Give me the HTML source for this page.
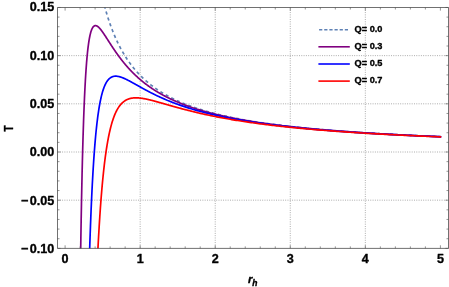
<!DOCTYPE html><html><head><meta charset="utf-8"><style>html,body{margin:0;padding:0;background:#fff}svg{display:block}text{font-family:"Liberation Sans",sans-serif;font-weight:bold;fill:#000;stroke:#000;stroke-width:0.35px;stroke-linejoin:round}</style></head><body><div style="will-change:transform;width:449px;height:287px">
<svg width="449" height="287" viewBox="0 0 449 287">
<defs><clipPath id="c"><rect x="57.50" y="7.50" width="391.00" height="240.90"/></clipPath></defs>
<path d="M140.16,7.50 V248.40 M215.22,7.50 V248.40 M290.28,7.50 V248.40 M365.34,7.50 V248.40 M57.50,200.18 H448.50 M57.50,152.00 H448.50 M57.50,103.82 H448.50 M57.50,55.64 H448.50" stroke="#8c8c8c" stroke-width="0.75" stroke-dasharray="0.95 1.35" fill="none"/>
<g clip-path="url(#c)" fill="none" stroke-linejoin="round">
<path d="M89.27,-86.14 L89.57,-83.22 L89.87,-80.37 L90.17,-77.58 L90.47,-74.87 L90.77,-72.21 L91.07,-69.62 L91.37,-67.09 L91.67,-64.61 L91.97,-62.19 L92.27,-59.83 L92.57,-57.51 L92.87,-55.25 L93.17,-53.03 L93.47,-50.86 L93.77,-48.74 L94.07,-46.66 L94.37,-44.62 L94.67,-42.62 L94.97,-40.67 L95.27,-38.75 L95.57,-36.87 L95.87,-35.03 L96.17,-33.22 L96.48,-31.45 L96.78,-29.71 L97.08,-28.00 L97.38,-26.33 L97.68,-24.68 L97.98,-23.07 L98.28,-21.49 L98.58,-19.93 L98.88,-18.40 L99.18,-16.90 L99.48,-15.43 L99.78,-13.98 L100.08,-12.55 L100.38,-11.15 L100.68,-9.77 L100.98,-8.42 L101.28,-7.09 L101.58,-5.78 L101.88,-4.49 L102.18,-3.22 L102.48,-1.98 L102.78,-0.75 L103.08,0.46 L103.38,1.65 L103.68,2.82 L103.98,3.97 L104.28,5.10 L104.58,6.22 L104.88,7.32 L105.18,8.40 L105.48,9.47 L105.78,10.52 L106.08,11.56 L106.38,12.58 L106.68,13.59 L106.98,14.58 L107.28,15.56 L107.58,16.52 L107.88,17.47 L108.18,18.41 L108.48,19.33 L108.78,20.25 L109.09,21.15 L109.39,22.03 L109.69,22.91 L109.99,23.77 L110.29,24.62 L110.59,25.46 L110.89,26.29 L111.19,27.11 L111.49,27.92 L111.79,28.72 L112.09,29.51 L112.39,30.28 L112.69,31.05 L112.99,31.81 L113.29,32.56 L113.59,33.30 L113.89,34.03 L114.19,34.75 L114.49,35.46 L114.79,36.17 L115.09,36.86 L115.39,37.55 L115.69,38.23 L115.99,38.90 L116.29,39.56 L116.59,40.22 L116.89,40.87 L117.19,41.51 L117.49,42.14 L117.79,42.77 L118.09,43.39 L118.39,44.00 L118.69,44.60 L118.99,45.20 L119.29,45.79 L119.59,46.38 L119.89,46.96 L120.19,47.53 L120.49,48.10 L120.79,48.66 L121.09,49.21 L121.40,49.76 L121.70,50.30 L122.00,50.84 L122.30,51.37 L122.60,51.89 L122.90,52.41 L123.20,52.93 L123.50,53.44 L123.80,53.94 L124.10,54.44 L124.40,54.94 L124.70,55.42 L125.00,55.91 L125.30,56.39 L125.60,56.86 L125.90,57.33 L126.20,57.80 L126.50,58.26 L126.80,58.71 L127.10,59.17 L127.40,59.61 L127.70,60.06 L128.00,60.50 L128.30,60.93 L128.60,61.36 L128.90,61.79 L129.20,62.21 L129.50,62.63 L129.80,63.04 L130.10,63.45 L130.40,63.86 L130.70,64.26 L131.00,64.66 L131.30,65.06 L131.60,65.45 L131.90,65.84 L132.20,66.23 L132.50,66.61 L132.80,66.99 L133.10,67.36 L133.40,67.74 L133.70,68.10 L134.01,68.47 L134.31,68.83 L134.61,69.19 L134.91,69.55 L135.21,69.90 L135.51,70.25 L135.81,70.60 L136.11,70.94 L136.41,71.28 L136.71,71.62 L137.01,71.96 L137.31,72.29 L137.61,72.62 L137.91,72.95 L138.21,73.27 L138.51,73.59 L138.81,73.91 L139.11,74.23 L139.41,74.54 L139.71,74.86 L140.01,75.17 L140.31,75.47 L140.61,75.78 L140.91,76.08 L141.21,76.38 L141.51,76.67 L141.81,76.97 L142.11,77.26 L142.41,77.55 L142.71,77.84 L143.01,78.13 L143.31,78.41 L143.61,78.69 L143.91,78.97 L144.21,79.25 L144.51,79.52 L144.81,79.80 L145.11,80.07 L145.41,80.34 L145.71,80.60 L146.01,80.87 L146.31,81.13 L146.62,81.39 L146.92,81.65 L147.22,81.91 L147.52,82.16 L147.82,82.42 L148.12,82.67 L148.42,82.92 L148.72,83.17 L149.02,83.41 L149.32,83.66 L149.62,83.90 L149.92,84.14 L150.22,84.38 L150.52,84.62 L150.82,84.85 L151.12,85.09 L151.42,85.32 L151.72,85.55 L152.02,85.78 L152.32,86.01 L152.62,86.24 L152.92,86.46 L153.22,86.68 L153.52,86.91 L153.82,87.13 L154.12,87.34 L154.42,87.56 L154.72,87.78 L155.02,87.99 L155.32,88.21 L155.62,88.42 L155.92,88.63 L156.22,88.84 L156.52,89.04 L156.82,89.25 L157.12,89.45 L157.42,89.66 L157.72,89.86 L158.02,90.06 L158.32,90.26 L158.62,90.46 L158.93,90.66 L159.23,90.85 L159.53,91.05 L159.83,91.24 L160.13,91.43 L160.43,91.62 L160.73,91.81 L161.03,92.00 L161.33,92.19 L161.63,92.37 L161.93,92.56 L162.23,92.74 L162.53,92.92 L162.83,93.11 L163.13,93.29 L163.43,93.46 L163.73,93.64 L164.03,93.82 L164.33,94.00 L164.63,94.17 L164.93,94.35 L165.23,94.52 L165.53,94.69 L165.83,94.86 L166.13,95.03 L166.43,95.20 L166.73,95.37 L167.03,95.53 L167.33,95.70 L167.63,95.86 L167.93,96.03 L168.23,96.19 L168.53,96.35 L168.83,96.51 L169.13,96.67 L169.43,96.83 L169.73,96.99 L170.03,97.15 L170.33,97.31 L170.63,97.46 L170.93,97.62 L171.23,97.77 L171.54,97.92 L171.84,98.08 L172.14,98.23 L172.44,98.38 L172.74,98.53 L173.04,98.68 L173.34,98.82 L173.64,98.97 L173.94,99.12 L174.24,99.26 L174.54,99.41 L174.84,99.55 L175.14,99.69 L175.44,99.84 L175.74,99.98 L176.04,100.12 L176.34,100.26 L176.64,100.40 L176.94,100.54 L177.24,100.67 L177.54,100.81 L179.19,101.55 L180.69,102.21 L182.19,102.85 L183.69,103.47 L185.20,104.07 L186.70,104.67 L188.20,105.24 L189.70,105.81 L191.20,106.36 L192.70,106.89 L194.20,107.42 L195.70,107.93 L197.21,108.43 L198.71,108.92 L200.21,109.40 L201.71,109.87 L203.21,110.33 L204.71,110.77 L206.21,111.21 L207.71,111.64 L209.22,112.06 L210.72,112.47 L212.22,112.88 L213.72,113.27 L215.22,113.66 L216.72,114.04 L218.22,114.41 L219.72,114.78 L221.22,115.13 L222.73,115.49 L224.23,115.83 L225.73,116.17 L227.23,116.50 L228.73,116.83 L230.23,117.15 L231.73,117.46 L233.23,117.77 L234.74,118.07 L236.24,118.37 L237.74,118.66 L239.24,118.95 L240.74,119.23 L242.24,119.51 L243.74,119.78 L245.24,120.05 L246.75,120.31 L248.25,120.57 L249.75,120.83 L251.25,121.08 L252.75,121.33 L254.25,121.57 L255.75,121.81 L257.25,122.05 L258.75,122.28 L260.26,122.51 L261.76,122.73 L263.26,122.95 L264.76,123.17 L266.26,123.39 L267.76,123.60 L269.26,123.81 L270.76,124.01 L272.27,124.22 L273.77,124.42 L275.27,124.61 L276.77,124.81 L278.27,125.00 L279.77,125.19 L281.27,125.37 L282.77,125.56 L284.28,125.74 L285.78,125.92 L287.28,126.09 L288.78,126.27 L290.28,126.44 L291.78,126.61 L293.28,126.78 L294.78,126.94 L296.28,127.10 L297.79,127.26 L299.29,127.42 L300.79,127.58 L302.29,127.73 L303.79,127.89 L305.29,128.04 L306.79,128.19 L308.29,128.33 L309.80,128.48 L311.30,128.62 L312.80,128.76 L314.30,128.90 L315.80,129.04 L317.30,129.18 L318.80,129.31 L320.30,129.45 L321.81,129.58 L323.31,129.71 L324.81,129.84 L326.31,129.97 L327.81,130.09 L329.31,130.22 L330.81,130.34 L332.31,130.46 L333.81,130.58 L335.32,130.70 L336.82,130.82 L338.32,130.93 L339.82,131.05 L341.32,131.16 L342.82,131.28 L344.32,131.39 L345.82,131.50 L347.33,131.61 L348.83,131.71 L350.33,131.82 L351.83,131.93 L353.33,132.03 L354.83,132.13 L356.33,132.24 L357.83,132.34 L359.34,132.44 L360.84,132.54 L362.34,132.64 L363.84,132.73 L365.34,132.83 L366.84,132.93 L368.34,133.02 L369.84,133.11 L371.34,133.21 L372.85,133.30 L374.35,133.39 L375.85,133.48 L377.35,133.57 L378.85,133.66 L380.35,133.74 L381.85,133.83 L383.35,133.91 L384.86,134.00 L386.36,134.08 L387.86,134.17 L389.36,134.25 L390.86,134.33 L392.36,134.41 L393.86,134.49 L395.36,134.57 L396.87,134.65 L398.37,134.73 L399.87,134.81 L401.37,134.88 L402.87,134.96 L404.37,135.04 L405.87,135.11 L407.37,135.18 L408.87,135.26 L410.38,135.33 L411.88,135.40 L413.38,135.47 L414.88,135.54 L416.38,135.62 L417.88,135.68 L419.38,135.75 L420.88,135.82 L422.39,135.89 L423.89,135.96 L425.39,136.02 L426.89,136.09 L428.39,136.16 L429.89,136.22 L431.39,136.29 L432.89,136.35 L434.40,136.41 L435.90,136.48 L437.40,136.54 L438.90,136.60 L440.40,136.66" stroke="#5e81b5" stroke-width="1.7" stroke-dasharray="3.2 3.0"/>
<path d="M79.66,329.53 L79.96,303.50 L80.26,279.79 L80.56,258.17 L80.86,238.44 L81.16,220.42 L81.46,203.93 L81.76,188.84 L82.06,175.01 L82.36,162.34 L82.66,150.71 L82.96,140.03 L83.26,130.23 L83.56,121.22 L83.86,112.94 L84.17,105.32 L84.47,98.31 L84.77,91.87 L85.07,85.93 L85.37,80.47 L85.67,75.45 L85.97,70.83 L86.27,66.57 L86.57,62.66 L86.87,59.06 L87.17,55.75 L87.47,52.72 L87.77,49.93 L88.07,47.37 L88.37,45.03 L88.67,42.88 L88.97,40.92 L89.27,39.13 L89.57,37.49 L89.87,36.01 L90.17,34.66 L90.47,33.44 L90.77,32.34 L91.07,31.34 L91.37,30.46 L91.67,29.66 L91.97,28.96 L92.27,28.34 L92.57,27.79 L92.87,27.32 L93.17,26.92 L93.47,26.57 L93.77,26.29 L94.07,26.06 L94.37,25.89 L94.67,25.76 L94.97,25.67 L95.27,25.63 L95.57,25.62 L95.87,25.65 L96.17,25.72 L96.48,25.82 L96.78,25.94 L97.08,26.10 L97.38,26.27 L97.68,26.48 L97.98,26.70 L98.28,26.95 L98.58,27.21 L98.88,27.49 L99.18,27.79 L99.48,28.11 L99.78,28.43 L100.08,28.78 L100.38,29.13 L100.68,29.50 L100.98,29.87 L101.28,30.26 L101.58,30.65 L101.88,31.06 L102.18,31.47 L102.48,31.88 L102.78,32.31 L103.08,32.74 L103.38,33.17 L103.68,33.61 L103.98,34.06 L104.28,34.50 L104.58,34.96 L104.88,35.41 L105.18,35.87 L105.48,36.33 L105.78,36.79 L106.08,37.25 L106.38,37.72 L106.68,38.18 L106.98,38.65 L107.28,39.12 L107.58,39.59 L107.88,40.05 L108.18,40.52 L108.48,40.99 L108.78,41.46 L109.09,41.93 L109.39,42.40 L109.69,42.86 L109.99,43.33 L110.29,43.79 L110.59,44.26 L110.89,44.72 L111.19,45.18 L111.49,45.64 L111.79,46.10 L112.09,46.55 L112.39,47.01 L112.69,47.46 L112.99,47.91 L113.29,48.36 L113.59,48.81 L113.89,49.26 L114.19,49.70 L114.49,50.14 L114.79,50.58 L115.09,51.02 L115.39,51.46 L115.69,51.89 L115.99,52.32 L116.29,52.75 L116.59,53.18 L116.89,53.60 L117.19,54.02 L117.49,54.44 L117.79,54.86 L118.09,55.27 L118.39,55.68 L118.69,56.09 L118.99,56.50 L119.29,56.91 L119.59,57.31 L119.89,57.71 L120.19,58.11 L120.49,58.50 L120.79,58.89 L121.09,59.28 L121.40,59.67 L121.70,60.06 L122.00,60.44 L122.30,60.82 L122.60,61.20 L122.90,61.58 L123.20,61.95 L123.50,62.32 L123.80,62.69 L124.10,63.05 L124.40,63.42 L124.70,63.78 L125.00,64.14 L125.30,64.50 L125.60,64.85 L125.90,65.20 L126.20,65.55 L126.50,65.90 L126.80,66.24 L127.10,66.59 L127.40,66.93 L127.70,67.27 L128.00,67.60 L128.30,67.94 L128.60,68.27 L128.90,68.60 L129.20,68.92 L129.50,69.25 L129.80,69.57 L130.10,69.89 L130.40,70.21 L130.70,70.53 L131.00,70.84 L131.30,71.16 L131.60,71.47 L131.90,71.77 L132.20,72.08 L132.50,72.38 L132.80,72.69 L133.10,72.99 L133.40,73.29 L133.70,73.58 L134.01,73.88 L134.31,74.17 L134.61,74.46 L134.91,74.75 L135.21,75.03 L135.51,75.32 L135.81,75.60 L136.11,75.88 L136.41,76.16 L136.71,76.44 L137.01,76.71 L137.31,76.99 L137.61,77.26 L137.91,77.53 L138.21,77.80 L138.51,78.07 L138.81,78.33 L139.11,78.59 L139.41,78.85 L139.71,79.11 L140.01,79.37 L140.31,79.63 L140.61,79.88 L140.91,80.14 L141.21,80.39 L141.51,80.64 L141.81,80.89 L142.11,81.13 L142.41,81.38 L142.71,81.62 L143.01,81.87 L143.31,82.11 L143.61,82.35 L143.91,82.58 L144.21,82.82 L144.51,83.05 L144.81,83.29 L145.11,83.52 L145.41,83.75 L145.71,83.98 L146.01,84.21 L146.31,84.43 L146.62,84.66 L146.92,84.88 L147.22,85.10 L147.52,85.32 L147.82,85.54 L148.12,85.76 L148.42,85.98 L148.72,86.19 L149.02,86.41 L149.32,86.62 L149.62,86.83 L149.92,87.04 L150.22,87.25 L150.52,87.46 L150.82,87.66 L151.12,87.87 L151.42,88.07 L151.72,88.27 L152.02,88.47 L152.32,88.68 L152.62,88.87 L152.92,89.07 L153.22,89.27 L153.52,89.46 L153.82,89.66 L154.12,89.85 L154.42,90.04 L154.72,90.24 L155.02,90.42 L155.32,90.61 L155.62,90.80 L155.92,90.99 L156.22,91.17 L156.52,91.36 L156.82,91.54 L157.12,91.72 L157.42,91.91 L157.72,92.09 L158.02,92.26 L158.32,92.44 L158.62,92.62 L158.93,92.80 L159.23,92.97 L159.53,93.15 L159.83,93.32 L160.13,93.49 L160.43,93.66 L160.73,93.83 L161.03,94.00 L161.33,94.17 L161.63,94.34 L161.93,94.51 L162.23,94.67 L162.53,94.84 L162.83,95.00 L163.13,95.16 L163.43,95.33 L163.73,95.49 L164.03,95.65 L164.33,95.81 L164.63,95.97 L164.93,96.12 L165.23,96.28 L165.53,96.44 L165.83,96.59 L166.13,96.75 L166.43,96.90 L166.73,97.05 L167.03,97.20 L167.33,97.36 L167.63,97.51 L167.93,97.66 L168.23,97.80 L168.53,97.95 L168.83,98.10 L169.13,98.25 L169.43,98.39 L169.73,98.54 L170.03,98.68 L170.33,98.82 L170.63,98.97 L170.93,99.11 L171.23,99.25 L171.54,99.39 L171.84,99.53 L172.14,99.67 L172.44,99.81 L172.74,99.94 L173.04,100.08 L173.34,100.22 L173.64,100.35 L173.94,100.49 L174.24,100.62 L174.54,100.76 L174.84,100.89 L175.14,101.02 L175.44,101.15 L175.74,101.28 L176.04,101.41 L176.34,101.54 L176.64,101.67 L176.94,101.80 L177.24,101.93 L177.54,102.06 L179.19,102.74 L180.69,103.35 L182.19,103.95 L183.69,104.53 L185.20,105.10 L186.70,105.65 L188.20,106.19 L189.70,106.72 L191.20,107.24 L192.70,107.74 L194.20,108.24 L195.70,108.72 L197.21,109.20 L198.71,109.66 L200.21,110.12 L201.71,110.56 L203.21,111.00 L204.71,111.42 L206.21,111.84 L207.71,112.25 L209.22,112.65 L210.72,113.05 L212.22,113.43 L213.72,113.81 L215.22,114.18 L216.72,114.55 L218.22,114.90 L219.72,115.25 L221.22,115.60 L222.73,115.94 L224.23,116.27 L225.73,116.59 L227.23,116.91 L228.73,117.23 L230.23,117.54 L231.73,117.84 L233.23,118.14 L234.74,118.43 L236.24,118.72 L237.74,119.00 L239.24,119.28 L240.74,119.56 L242.24,119.83 L243.74,120.09 L245.24,120.35 L246.75,120.61 L248.25,120.86 L249.75,121.11 L251.25,121.35 L252.75,121.60 L254.25,121.83 L255.75,122.07 L257.25,122.30 L258.75,122.52 L260.26,122.75 L261.76,122.97 L263.26,123.18 L264.76,123.39 L266.26,123.61 L267.76,123.81 L269.26,124.02 L270.76,124.22 L272.27,124.42 L273.77,124.61 L275.27,124.80 L276.77,124.99 L278.27,125.18 L279.77,125.37 L281.27,125.55 L282.77,125.73 L284.28,125.91 L285.78,126.08 L287.28,126.26 L288.78,126.43 L290.28,126.59 L291.78,126.76 L293.28,126.92 L294.78,127.09 L296.28,127.25 L297.79,127.40 L299.29,127.56 L300.79,127.71 L302.29,127.87 L303.79,128.02 L305.29,128.16 L306.79,128.31 L308.29,128.46 L309.80,128.60 L311.30,128.74 L312.80,128.88 L314.30,129.02 L315.80,129.15 L317.30,129.29 L318.80,129.42 L320.30,129.55 L321.81,129.68 L323.31,129.81 L324.81,129.94 L326.31,130.06 L327.81,130.19 L329.31,130.31 L330.81,130.43 L332.31,130.55 L333.81,130.67 L335.32,130.79 L336.82,130.91 L338.32,131.02 L339.82,131.13 L341.32,131.25 L342.82,131.36 L344.32,131.47 L345.82,131.58 L347.33,131.68 L348.83,131.79 L350.33,131.90 L351.83,132.00 L353.33,132.10 L354.83,132.21 L356.33,132.31 L357.83,132.41 L359.34,132.51 L360.84,132.61 L362.34,132.70 L363.84,132.80 L365.34,132.90 L366.84,132.99 L368.34,133.08 L369.84,133.18 L371.34,133.27 L372.85,133.36 L374.35,133.45 L375.85,133.54 L377.35,133.63 L378.85,133.71 L380.35,133.80 L381.85,133.88 L383.35,133.97 L384.86,134.05 L386.36,134.14 L387.86,134.22 L389.36,134.30 L390.86,134.38 L392.36,134.46 L393.86,134.54 L395.36,134.62 L396.87,134.70 L398.37,134.78 L399.87,134.85 L401.37,134.93 L402.87,135.01 L404.37,135.08 L405.87,135.15 L407.37,135.23 L408.87,135.30 L410.38,135.37 L411.88,135.44 L413.38,135.52 L414.88,135.59 L416.38,135.66 L417.88,135.73 L419.38,135.79 L420.88,135.86 L422.39,135.93 L423.89,136.00 L425.39,136.06 L426.89,136.13 L428.39,136.19 L429.89,136.26 L431.39,136.32 L432.89,136.39 L434.40,136.45 L435.90,136.51 L437.40,136.57 L438.90,136.64 L440.40,136.70" stroke="#800080" stroke-width="1.7" stroke-linecap="square"/>
<path d="M87.47,333.67 L87.77,319.86 L88.07,306.86 L88.37,294.60 L88.67,283.03 L88.97,272.12 L89.27,261.82 L89.57,252.09 L89.87,242.90 L90.17,234.21 L90.47,225.98 L90.77,218.20 L91.07,210.84 L91.37,203.87 L91.67,197.26 L91.97,191.00 L92.27,185.07 L92.57,179.44 L92.87,174.10 L93.17,169.04 L93.47,164.23 L93.77,159.67 L94.07,155.34 L94.37,151.22 L94.67,147.32 L94.97,143.60 L95.27,140.07 L95.57,136.72 L95.87,133.53 L96.17,130.50 L96.48,127.62 L96.78,124.87 L97.08,122.27 L97.38,119.79 L97.68,117.43 L97.98,115.18 L98.28,113.05 L98.58,111.02 L98.88,109.08 L99.18,107.25 L99.48,105.50 L99.78,103.83 L100.08,102.25 L100.38,100.74 L100.68,99.31 L100.98,97.95 L101.28,96.65 L101.58,95.42 L101.88,94.25 L102.18,93.14 L102.48,92.08 L102.78,91.08 L103.08,90.13 L103.38,89.22 L103.68,88.36 L103.98,87.55 L104.28,86.78 L104.58,86.04 L104.88,85.35 L105.18,84.69 L105.48,84.07 L105.78,83.49 L106.08,82.93 L106.38,82.41 L106.68,81.91 L106.98,81.44 L107.28,81.00 L107.58,80.59 L107.88,80.20 L108.18,79.84 L108.48,79.50 L108.78,79.18 L109.09,78.88 L109.39,78.60 L109.69,78.34 L109.99,78.10 L110.29,77.87 L110.59,77.67 L110.89,77.47 L111.19,77.30 L111.49,77.14 L111.79,76.99 L112.09,76.86 L112.39,76.74 L112.69,76.64 L112.99,76.54 L113.29,76.46 L113.59,76.39 L113.89,76.33 L114.19,76.28 L114.49,76.24 L114.79,76.21 L115.09,76.19 L115.39,76.18 L115.69,76.17 L115.99,76.18 L116.29,76.19 L116.59,76.21 L116.89,76.23 L117.19,76.26 L117.49,76.30 L117.79,76.35 L118.09,76.40 L118.39,76.46 L118.69,76.52 L118.99,76.59 L119.29,76.66 L119.59,76.74 L119.89,76.82 L120.19,76.91 L120.49,77.00 L120.79,77.09 L121.09,77.19 L121.40,77.30 L121.70,77.40 L122.00,77.51 L122.30,77.63 L122.60,77.74 L122.90,77.86 L123.20,77.98 L123.50,78.11 L123.80,78.24 L124.10,78.37 L124.40,78.50 L124.70,78.63 L125.00,78.77 L125.30,78.91 L125.60,79.05 L125.90,79.19 L126.20,79.34 L126.50,79.48 L126.80,79.63 L127.10,79.78 L127.40,79.93 L127.70,80.08 L128.00,80.24 L128.30,80.39 L128.60,80.55 L128.90,80.70 L129.20,80.86 L129.50,81.02 L129.80,81.18 L130.10,81.34 L130.40,81.50 L130.70,81.67 L131.00,81.83 L131.30,81.99 L131.60,82.16 L131.90,82.32 L132.20,82.49 L132.50,82.65 L132.80,82.82 L133.10,82.98 L133.40,83.15 L133.70,83.32 L134.01,83.49 L134.31,83.65 L134.61,83.82 L134.91,83.99 L135.21,84.16 L135.51,84.33 L135.81,84.50 L136.11,84.66 L136.41,84.83 L136.71,85.00 L137.01,85.17 L137.31,85.34 L137.61,85.51 L137.91,85.68 L138.21,85.84 L138.51,86.01 L138.81,86.18 L139.11,86.35 L139.41,86.52 L139.71,86.69 L140.01,86.85 L140.31,87.02 L140.61,87.19 L140.91,87.35 L141.21,87.52 L141.51,87.69 L141.81,87.85 L142.11,88.02 L142.41,88.18 L142.71,88.35 L143.01,88.51 L143.31,88.68 L143.61,88.84 L143.91,89.01 L144.21,89.17 L144.51,89.33 L144.81,89.49 L145.11,89.66 L145.41,89.82 L145.71,89.98 L146.01,90.14 L146.31,90.30 L146.62,90.46 L146.92,90.62 L147.22,90.78 L147.52,90.94 L147.82,91.10 L148.12,91.26 L148.42,91.41 L148.72,91.57 L149.02,91.73 L149.32,91.88 L149.62,92.04 L149.92,92.19 L150.22,92.35 L150.52,92.50 L150.82,92.65 L151.12,92.81 L151.42,92.96 L151.72,93.11 L152.02,93.26 L152.32,93.41 L152.62,93.56 L152.92,93.71 L153.22,93.86 L153.52,94.01 L153.82,94.16 L154.12,94.31 L154.42,94.46 L154.72,94.60 L155.02,94.75 L155.32,94.89 L155.62,95.04 L155.92,95.18 L156.22,95.33 L156.52,95.47 L156.82,95.62 L157.12,95.76 L157.42,95.90 L157.72,96.04 L158.02,96.18 L158.32,96.32 L158.62,96.46 L158.93,96.60 L159.23,96.74 L159.53,96.88 L159.83,97.02 L160.13,97.16 L160.43,97.29 L160.73,97.43 L161.03,97.56 L161.33,97.70 L161.63,97.83 L161.93,97.97 L162.23,98.10 L162.53,98.24 L162.83,98.37 L163.13,98.50 L163.43,98.63 L163.73,98.76 L164.03,98.89 L164.33,99.02 L164.63,99.15 L164.93,99.28 L165.23,99.41 L165.53,99.54 L165.83,99.67 L166.13,99.79 L166.43,99.92 L166.73,100.05 L167.03,100.17 L167.33,100.30 L167.63,100.42 L167.93,100.55 L168.23,100.67 L168.53,100.79 L168.83,100.92 L169.13,101.04 L169.43,101.16 L169.73,101.28 L170.03,101.40 L170.33,101.52 L170.63,101.64 L170.93,101.76 L171.23,101.88 L171.54,102.00 L171.84,102.12 L172.14,102.23 L172.44,102.35 L172.74,102.47 L173.04,102.58 L173.34,102.70 L173.64,102.81 L173.94,102.93 L174.24,103.04 L174.54,103.16 L174.84,103.27 L175.14,103.38 L175.44,103.49 L175.74,103.61 L176.04,103.72 L176.34,103.83 L176.64,103.94 L176.94,104.05 L177.24,104.16 L177.54,104.27 L179.19,104.86 L180.69,105.39 L182.19,105.91 L183.69,106.41 L185.20,106.91 L186.70,107.40 L188.20,107.88 L189.70,108.35 L191.20,108.81 L192.70,109.26 L194.20,109.70 L195.70,110.14 L197.21,110.56 L198.71,110.98 L200.21,111.39 L201.71,111.79 L203.21,112.19 L204.71,112.58 L206.21,112.96 L207.71,113.34 L209.22,113.70 L210.72,114.06 L212.22,114.42 L213.72,114.77 L215.22,115.11 L216.72,115.45 L218.22,115.78 L219.72,116.11 L221.22,116.43 L222.73,116.74 L224.23,117.05 L225.73,117.35 L227.23,117.65 L228.73,117.95 L230.23,118.24 L231.73,118.52 L233.23,118.80 L234.74,119.08 L236.24,119.35 L237.74,119.62 L239.24,119.88 L240.74,120.14 L242.24,120.39 L243.74,120.64 L245.24,120.89 L246.75,121.13 L248.25,121.37 L249.75,121.61 L251.25,121.84 L252.75,122.07 L254.25,122.30 L255.75,122.52 L257.25,122.74 L258.75,122.96 L260.26,123.17 L261.76,123.38 L263.26,123.59 L264.76,123.79 L266.26,123.99 L267.76,124.19 L269.26,124.39 L270.76,124.58 L272.27,124.77 L273.77,124.96 L275.27,125.14 L276.77,125.33 L278.27,125.51 L279.77,125.69 L281.27,125.86 L282.77,126.03 L284.28,126.21 L285.78,126.38 L287.28,126.54 L288.78,126.71 L290.28,126.87 L291.78,127.03 L293.28,127.19 L294.78,127.35 L296.28,127.50 L297.79,127.65 L299.29,127.81 L300.79,127.95 L302.29,128.10 L303.79,128.25 L305.29,128.39 L306.79,128.53 L308.29,128.67 L309.80,128.81 L311.30,128.95 L312.80,129.09 L314.30,129.22 L315.80,129.35 L317.30,129.48 L318.80,129.61 L320.30,129.74 L321.81,129.87 L323.31,129.99 L324.81,130.12 L326.31,130.24 L327.81,130.36 L329.31,130.48 L330.81,130.60 L332.31,130.72 L333.81,130.83 L335.32,130.95 L336.82,131.06 L338.32,131.17 L339.82,131.29 L341.32,131.40 L342.82,131.50 L344.32,131.61 L345.82,131.72 L347.33,131.82 L348.83,131.93 L350.33,132.03 L351.83,132.13 L353.33,132.24 L354.83,132.34 L356.33,132.44 L357.83,132.53 L359.34,132.63 L360.84,132.73 L362.34,132.82 L363.84,132.92 L365.34,133.01 L366.84,133.10 L368.34,133.20 L369.84,133.29 L371.34,133.38 L372.85,133.47 L374.35,133.55 L375.85,133.64 L377.35,133.73 L378.85,133.81 L380.35,133.90 L381.85,133.98 L383.35,134.07 L384.86,134.15 L386.36,134.23 L387.86,134.31 L389.36,134.39 L390.86,134.47 L392.36,134.55 L393.86,134.63 L395.36,134.71 L396.87,134.79 L398.37,134.86 L399.87,134.94 L401.37,135.01 L402.87,135.09 L404.37,135.16 L405.87,135.23 L407.37,135.31 L408.87,135.38 L410.38,135.45 L411.88,135.52 L413.38,135.59 L414.88,135.66 L416.38,135.73 L417.88,135.80 L419.38,135.86 L420.88,135.93 L422.39,136.00 L423.89,136.06 L425.39,136.13 L426.89,136.19 L428.39,136.26 L429.89,136.32 L431.39,136.39 L432.89,136.45 L434.40,136.51 L435.90,136.57 L437.40,136.64 L438.90,136.70 L440.40,136.76" stroke="#0000ff" stroke-width="1.7" stroke-linecap="square"/>
<path d="M94.37,339.23 L94.67,329.66 L94.97,320.50 L95.27,311.74 L95.57,303.36 L95.87,295.35 L96.17,287.67 L96.48,280.32 L96.78,273.27 L97.08,266.53 L97.38,260.06 L97.68,253.86 L97.98,247.91 L98.28,242.20 L98.58,236.73 L98.88,231.47 L99.18,226.43 L99.48,221.58 L99.78,216.93 L100.08,212.46 L100.38,208.16 L100.68,204.03 L100.98,200.06 L101.28,196.25 L101.58,192.58 L101.88,189.05 L102.18,185.65 L102.48,182.38 L102.78,179.24 L103.08,176.21 L103.38,173.30 L103.68,170.49 L103.98,167.79 L104.28,165.18 L104.58,162.68 L104.88,160.26 L105.18,157.93 L105.48,155.69 L105.78,153.53 L106.08,151.45 L106.38,149.44 L106.68,147.50 L106.98,145.63 L107.28,143.83 L107.58,142.10 L107.88,140.42 L108.18,138.81 L108.48,137.25 L108.78,135.75 L109.09,134.30 L109.39,132.90 L109.69,131.55 L109.99,130.25 L110.29,128.99 L110.59,127.78 L110.89,126.61 L111.19,125.48 L111.49,124.39 L111.79,123.34 L112.09,122.32 L112.39,121.35 L112.69,120.40 L112.99,119.49 L113.29,118.61 L113.59,117.76 L113.89,116.94 L114.19,116.15 L114.49,115.39 L114.79,114.65 L115.09,113.94 L115.39,113.26 L115.69,112.60 L115.99,111.96 L116.29,111.34 L116.59,110.75 L116.89,110.18 L117.19,109.63 L117.49,109.10 L117.79,108.59 L118.09,108.09 L118.39,107.62 L118.69,107.16 L118.99,106.72 L119.29,106.29 L119.59,105.88 L119.89,105.49 L120.19,105.11 L120.49,104.74 L120.79,104.39 L121.09,104.06 L121.40,103.73 L121.70,103.42 L122.00,103.12 L122.30,102.83 L122.60,102.55 L122.90,102.29 L123.20,102.03 L123.50,101.79 L123.80,101.56 L124.10,101.33 L124.40,101.12 L124.70,100.91 L125.00,100.72 L125.30,100.53 L125.60,100.35 L125.90,100.18 L126.20,100.01 L126.50,99.86 L126.80,99.71 L127.10,99.57 L127.40,99.44 L127.70,99.31 L128.00,99.19 L128.30,99.07 L128.60,98.97 L128.90,98.86 L129.20,98.77 L129.50,98.68 L129.80,98.59 L130.10,98.51 L130.40,98.44 L130.70,98.37 L131.00,98.31 L131.30,98.25 L131.60,98.19 L131.90,98.14 L132.20,98.09 L132.50,98.05 L132.80,98.01 L133.10,97.98 L133.40,97.95 L133.70,97.92 L134.01,97.90 L134.31,97.88 L134.61,97.87 L134.91,97.86 L135.21,97.85 L135.51,97.84 L135.81,97.84 L136.11,97.84 L136.41,97.84 L136.71,97.85 L137.01,97.85 L137.31,97.87 L137.61,97.88 L137.91,97.90 L138.21,97.91 L138.51,97.94 L138.81,97.96 L139.11,97.98 L139.41,98.01 L139.71,98.04 L140.01,98.07 L140.31,98.11 L140.61,98.14 L140.91,98.18 L141.21,98.22 L141.51,98.26 L141.81,98.30 L142.11,98.34 L142.41,98.39 L142.71,98.44 L143.01,98.49 L143.31,98.54 L143.61,98.59 L143.91,98.64 L144.21,98.69 L144.51,98.75 L144.81,98.81 L145.11,98.86 L145.41,98.92 L145.71,98.98 L146.01,99.04 L146.31,99.11 L146.62,99.17 L146.92,99.23 L147.22,99.30 L147.52,99.36 L147.82,99.43 L148.12,99.50 L148.42,99.57 L148.72,99.64 L149.02,99.71 L149.32,99.78 L149.62,99.85 L149.92,99.92 L150.22,99.99 L150.52,100.07 L150.82,100.14 L151.12,100.22 L151.42,100.29 L151.72,100.37 L152.02,100.44 L152.32,100.52 L152.62,100.60 L152.92,100.68 L153.22,100.76 L153.52,100.83 L153.82,100.91 L154.12,100.99 L154.42,101.07 L154.72,101.15 L155.02,101.24 L155.32,101.32 L155.62,101.40 L155.92,101.48 L156.22,101.56 L156.52,101.64 L156.82,101.73 L157.12,101.81 L157.42,101.89 L157.72,101.98 L158.02,102.06 L158.32,102.14 L158.62,102.23 L158.93,102.31 L159.23,102.40 L159.53,102.48 L159.83,102.57 L160.13,102.65 L160.43,102.74 L160.73,102.82 L161.03,102.91 L161.33,102.99 L161.63,103.08 L161.93,103.16 L162.23,103.25 L162.53,103.34 L162.83,103.42 L163.13,103.51 L163.43,103.59 L163.73,103.68 L164.03,103.77 L164.33,103.85 L164.63,103.94 L164.93,104.02 L165.23,104.11 L165.53,104.20 L165.83,104.28 L166.13,104.37 L166.43,104.45 L166.73,104.54 L167.03,104.63 L167.33,104.71 L167.63,104.80 L167.93,104.88 L168.23,104.97 L168.53,105.06 L168.83,105.14 L169.13,105.23 L169.43,105.31 L169.73,105.40 L170.03,105.48 L170.33,105.57 L170.63,105.65 L170.93,105.74 L171.23,105.82 L171.54,105.91 L171.84,105.99 L172.14,106.08 L172.44,106.16 L172.74,106.25 L173.04,106.33 L173.34,106.42 L173.64,106.50 L173.94,106.59 L174.24,106.67 L174.54,106.75 L174.84,106.84 L175.14,106.92 L175.44,107.00 L175.74,107.09 L176.04,107.17 L176.34,107.25 L176.64,107.34 L176.94,107.42 L177.24,107.50 L177.54,107.58 L179.19,108.04 L180.69,108.44 L182.19,108.84 L183.69,109.24 L185.20,109.63 L186.70,110.02 L188.20,110.41 L189.70,110.78 L191.20,111.16 L192.70,111.53 L194.20,111.89 L195.70,112.25 L197.21,112.61 L198.71,112.96 L200.21,113.30 L201.71,113.64 L203.21,113.98 L204.71,114.31 L206.21,114.64 L207.71,114.96 L209.22,115.28 L210.72,115.59 L212.22,115.90 L213.72,116.21 L215.22,116.51 L216.72,116.80 L218.22,117.09 L219.72,117.38 L221.22,117.66 L222.73,117.94 L224.23,118.22 L225.73,118.49 L227.23,118.76 L228.73,119.02 L230.23,119.28 L231.73,119.54 L233.23,119.79 L234.74,120.04 L236.24,120.29 L237.74,120.53 L239.24,120.77 L240.74,121.01 L242.24,121.24 L243.74,121.47 L245.24,121.70 L246.75,121.92 L248.25,122.14 L249.75,122.36 L251.25,122.57 L252.75,122.78 L254.25,122.99 L255.75,123.20 L257.25,123.40 L258.75,123.60 L260.26,123.80 L261.76,124.00 L263.26,124.19 L264.76,124.38 L266.26,124.57 L267.76,124.76 L269.26,124.94 L270.76,125.12 L272.27,125.30 L273.77,125.48 L275.27,125.65 L276.77,125.82 L278.27,125.99 L279.77,126.16 L281.27,126.33 L282.77,126.49 L284.28,126.65 L285.78,126.81 L287.28,126.97 L288.78,127.13 L290.28,127.28 L291.78,127.44 L293.28,127.59 L294.78,127.74 L296.28,127.88 L297.79,128.03 L299.29,128.17 L300.79,128.31 L302.29,128.46 L303.79,128.59 L305.29,128.73 L306.79,128.87 L308.29,129.00 L309.80,129.14 L311.30,129.27 L312.80,129.40 L314.30,129.53 L315.80,129.65 L317.30,129.78 L318.80,129.90 L320.30,130.03 L321.81,130.15 L323.31,130.27 L324.81,130.39 L326.31,130.51 L327.81,130.62 L329.31,130.74 L330.81,130.85 L332.31,130.97 L333.81,131.08 L335.32,131.19 L336.82,131.30 L338.32,131.41 L339.82,131.51 L341.32,131.62 L342.82,131.72 L344.32,131.83 L345.82,131.93 L347.33,132.03 L348.83,132.14 L350.33,132.24 L351.83,132.33 L353.33,132.43 L354.83,132.53 L356.33,132.63 L357.83,132.72 L359.34,132.82 L360.84,132.91 L362.34,133.00 L363.84,133.09 L365.34,133.19 L366.84,133.28 L368.34,133.36 L369.84,133.45 L371.34,133.54 L372.85,133.63 L374.35,133.71 L375.85,133.80 L377.35,133.88 L378.85,133.97 L380.35,134.05 L381.85,134.13 L383.35,134.21 L384.86,134.29 L386.36,134.37 L387.86,134.45 L389.36,134.53 L390.86,134.61 L392.36,134.69 L393.86,134.76 L395.36,134.84 L396.87,134.92 L398.37,134.99 L399.87,135.06 L401.37,135.14 L402.87,135.21 L404.37,135.28 L405.87,135.35 L407.37,135.42 L408.87,135.49 L410.38,135.56 L411.88,135.63 L413.38,135.70 L414.88,135.77 L416.38,135.84 L417.88,135.90 L419.38,135.97 L420.88,136.04 L422.39,136.10 L423.89,136.17 L425.39,136.23 L426.89,136.29 L428.39,136.36 L429.89,136.42 L431.39,136.48 L432.89,136.54 L434.40,136.61 L435.90,136.67 L437.40,136.73 L438.90,136.79 L440.40,136.85" stroke="#ff0000" stroke-width="1.7" stroke-linecap="square"/>
</g>
<path d="M57.50,7.50 H448.50 V248.40 H57.50 Z" stroke="#4d4d4d" stroke-width="0.8" fill="none"/>
<path d="M65.10,248.40 v-3.10 M65.10,7.50 v3.10 M80.11,248.40 v-2.00 M80.11,7.50 v2.00 M95.12,248.40 v-2.00 M95.12,7.50 v2.00 M110.14,248.40 v-2.00 M110.14,7.50 v2.00 M125.15,248.40 v-2.00 M125.15,7.50 v2.00 M140.16,248.40 v-3.10 M140.16,7.50 v3.10 M155.17,248.40 v-2.00 M155.17,7.50 v2.00 M170.18,248.40 v-2.00 M170.18,7.50 v2.00 M185.20,248.40 v-2.00 M185.20,7.50 v2.00 M200.21,248.40 v-2.00 M200.21,7.50 v2.00 M215.22,248.40 v-3.10 M215.22,7.50 v3.10 M230.23,248.40 v-2.00 M230.23,7.50 v2.00 M245.24,248.40 v-2.00 M245.24,7.50 v2.00 M260.26,248.40 v-2.00 M260.26,7.50 v2.00 M275.27,248.40 v-2.00 M275.27,7.50 v2.00 M290.28,248.40 v-3.10 M290.28,7.50 v3.10 M305.29,248.40 v-2.00 M305.29,7.50 v2.00 M320.30,248.40 v-2.00 M320.30,7.50 v2.00 M335.32,248.40 v-2.00 M335.32,7.50 v2.00 M350.33,248.40 v-2.00 M350.33,7.50 v2.00 M365.34,248.40 v-3.10 M365.34,7.50 v3.10 M380.35,248.40 v-2.00 M380.35,7.50 v2.00 M395.36,248.40 v-2.00 M395.36,7.50 v2.00 M410.38,248.40 v-2.00 M410.38,7.50 v2.00 M425.39,248.40 v-2.00 M425.39,7.50 v2.00 M440.40,248.40 v-3.10 M440.40,7.50 v3.10 M57.50,248.36 h3.10 M448.50,248.36 h-3.10 M57.50,238.72 h2.00 M448.50,238.72 h-2.00 M57.50,229.09 h2.00 M448.50,229.09 h-2.00 M57.50,219.45 h2.00 M448.50,219.45 h-2.00 M57.50,209.82 h2.00 M448.50,209.82 h-2.00 M57.50,200.18 h3.10 M448.50,200.18 h-3.10 M57.50,190.54 h2.00 M448.50,190.54 h-2.00 M57.50,180.91 h2.00 M448.50,180.91 h-2.00 M57.50,171.27 h2.00 M448.50,171.27 h-2.00 M57.50,161.64 h2.00 M448.50,161.64 h-2.00 M57.50,152.00 h3.10 M448.50,152.00 h-3.10 M57.50,142.36 h2.00 M448.50,142.36 h-2.00 M57.50,132.73 h2.00 M448.50,132.73 h-2.00 M57.50,123.09 h2.00 M448.50,123.09 h-2.00 M57.50,113.46 h2.00 M448.50,113.46 h-2.00 M57.50,103.82 h3.10 M448.50,103.82 h-3.10 M57.50,94.18 h2.00 M448.50,94.18 h-2.00 M57.50,84.55 h2.00 M448.50,84.55 h-2.00 M57.50,74.91 h2.00 M448.50,74.91 h-2.00 M57.50,65.28 h2.00 M448.50,65.28 h-2.00 M57.50,55.64 h3.10 M448.50,55.64 h-3.10 M57.50,46.00 h2.00 M448.50,46.00 h-2.00 M57.50,36.37 h2.00 M448.50,36.37 h-2.00 M57.50,26.73 h2.00 M448.50,26.73 h-2.00 M57.50,17.10 h2.00 M448.50,17.10 h-2.00 M57.50,7.46 h3.10 M448.50,7.46 h-3.10" stroke="#4d4d4d" stroke-width="0.6" fill="none"/>
<text x="65.10" y="262.80" font-size="12.60" text-anchor="middle">0</text>
<text x="140.16" y="262.80" font-size="12.60" text-anchor="middle">1</text>
<text x="215.22" y="262.80" font-size="12.60" text-anchor="middle">2</text>
<text x="290.28" y="262.80" font-size="12.60" text-anchor="middle">3</text>
<text x="365.34" y="262.80" font-size="12.60" text-anchor="middle">4</text>
<text x="440.40" y="262.80" font-size="12.60" text-anchor="middle">5</text>
<text x="54.20" y="11.26" font-size="12.60" text-anchor="end">0.15</text>
<text x="54.20" y="59.64" font-size="12.60" text-anchor="end">0.10</text>
<text x="54.20" y="107.97" font-size="12.60" text-anchor="end">0.05</text>
<text x="54.20" y="156.40" font-size="12.60" text-anchor="end">0.00</text>
<text x="54.20" y="204.73" font-size="12.60" text-anchor="end">−<tspan dx="1.3">0.05</tspan></text>
<text x="54.20" y="253.26" font-size="12.60" text-anchor="end">−<tspan dx="1.3">0.10</tspan></text>
<text transform="translate(12.6,128.5) rotate(-90) scale(0.9,1.08)" font-size="11.2" text-anchor="middle">T</text>
<text x="247.9" y="282.6" font-size="11.3" font-style="italic">r<tspan font-size="8.5" dy="2.9">h</tspan></text>
<path d="M319.1,29.80 H348.0" stroke="#5e81b5" stroke-width="1.5" stroke-dasharray="3.2 1.94" fill="none"/>
<text x="354.6" y="32.00" font-size="9.2">Q= 0.0</text>
<path d="M318.4,46.80 H349.8" stroke="#800080" stroke-width="1.6" fill="none"/>
<text x="354.6" y="49.00" font-size="9.2">Q= 0.3</text>
<path d="M318.4,64.00 H349.8" stroke="#0000ff" stroke-width="1.6" fill="none"/>
<text x="354.6" y="66.20" font-size="9.2">Q= 0.5</text>
<path d="M318.4,81.10 H349.8" stroke="#ff0000" stroke-width="1.6" fill="none"/>
<text x="354.6" y="83.30" font-size="9.2">Q= 0.7</text>
</svg></div></body></html>
